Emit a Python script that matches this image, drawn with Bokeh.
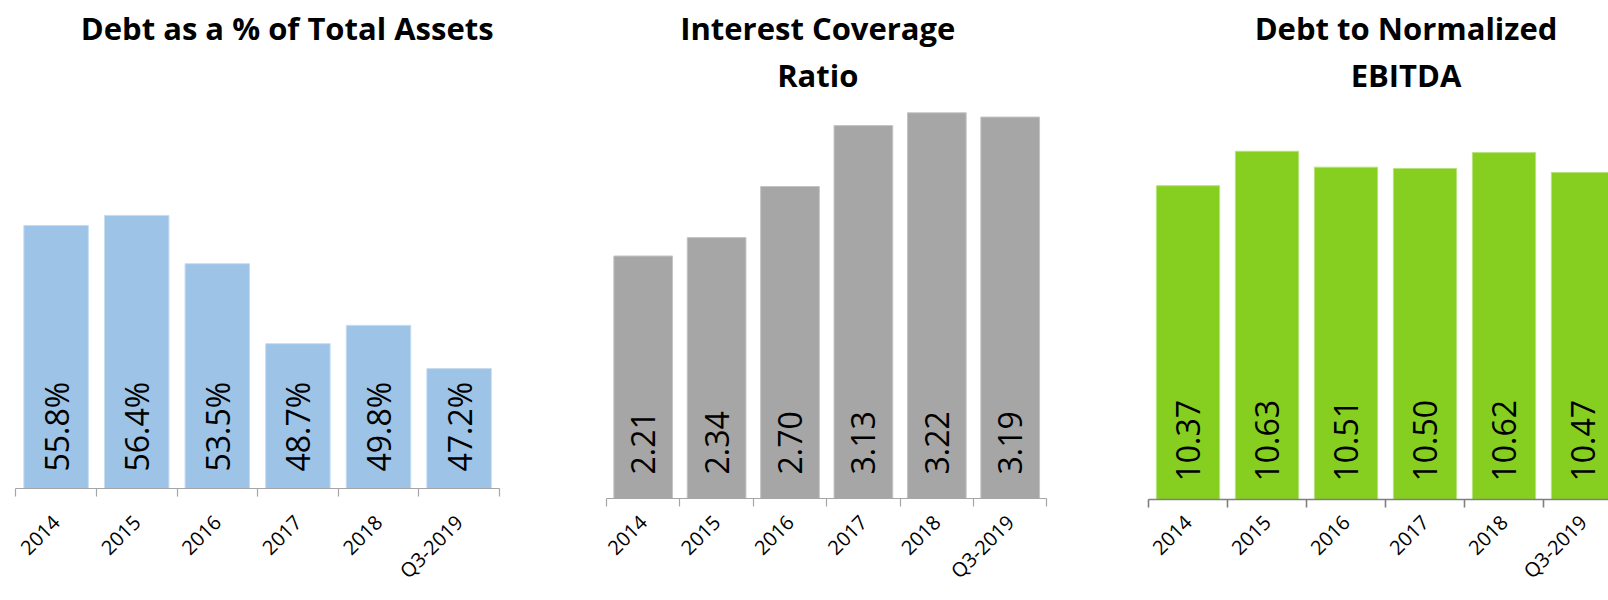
import math
from bokeh.plotting import figure
from bokeh.layouts import row
from bokeh.models import FixedTicker, Range1d, Label
from bokeh.core.properties import value
from bokeh.embed import file_html
from bokeh.resources import INLINE

# ---------------- data ----------------
categories = ["2014", "2015", "2016", "2017", "2018", "Q3-2019"]
debt_pct_assets = [55.8, 56.4, 53.5, 48.7, 49.8, 47.2]
interest_coverage = [2.21, 2.34, 2.70, 3.13, 3.22, 3.19]
debt_to_ebitda = [10.37, 10.63, 10.51, 10.50, 10.62, 10.47]

titles_1 = ["Debt as a % of Total Assets"]
titles_2 = ["Interest Coverage", "Ratio"]
titles_3 = ["Debt to Normalized", "EBITDA"]

# ---------------- layout (page pixels) ----------------
PAGE_TOP = 0
FIG_H = 600
FONT = "Open Sans"

panels = [
    dict(titles=titles_1, values=debt_pct_assets, fmt="{:.1f}%",
         fill="#9DC3E6", edge="#C6DCF1", axis_color="#A6A6A6", axis_w=1.2,
         fig_left=0, fig_right=560, axis_left=15.3, cat_px=80.6,
         base=488, y0=40.0, px_unit=16.65, title_cx=286.7,
         val_gap=17, standoff=22),
    dict(titles=titles_2, values=interest_coverage, fmt="{:.2f}",
         fill="#A6A6A6", edge="#C4C4C4", axis_color="#A6A6A6", axis_w=1.2,
         fig_left=560, fig_right=1090, axis_left=606.0, cat_px=73.4,
         base=498, y0=0.5, px_unit=141.8, title_cx=817.3,
         val_gap=24, standoff=12),
    dict(titles=titles_3, values=debt_to_ebitda, fmt="{:.2f}",
         fill="#86CE20", edge="#B6E27A", axis_color="#7F7F7F", axis_w=1.6,
         fig_left=1090, fig_right=1608, axis_left=1148.0, cat_px=79.0,
         base=499, y0=8.0, px_unit=132.4, title_cx=1405.5,
         val_gap=18, standoff=11),
]

# baselines of the two title lines (page px), corrected for Label's anchor
title_baselines = [27.0, 74.0]

figs = []
for cfg in panels:
    n = len(categories)
    centers = list(range(n))
    bounds = [i - 0.5 for i in range(n + 1)]
    frame_h = cfg["base"] - PAGE_TOP
    width = cfg["fig_right"] - cfg["fig_left"]

    def px_to_x(px, c=cfg):
        return (px - c["axis_left"]) / c["cat_px"] - 0.5

    def py_to_y(py, c=cfg):
        return c["y0"] + (c["base"] - py) / c["px_unit"]

    x_range = Range1d(px_to_x(cfg["fig_left"]), px_to_x(cfg["fig_right"]))
    y_range = Range1d(cfg["y0"], py_to_y(PAGE_TOP))

    p = figure(width=width, height=FIG_H, x_range=x_range, y_range=y_range,
               title=None, output_backend="svg", toolbar_location=None,
               y_axis_location=None, min_border_left=0, min_border_right=0,
               min_border_top=0, min_border_bottom=FIG_H - frame_h)
    if hasattr(p, "frame_align"):
        p.frame_align = False
    p.outline_line_color = None
    p.grid.visible = False
    p.background_fill_color = "white"
    p.border_fill_color = "white"

    p.vbar(x=centers, top=cfg["values"], bottom=cfg["y0"], width=0.8,
           fill_color=cfg["fill"], line_color=cfg["edge"], line_width=1)

    p.text(x=centers, y=cfg["y0"], text=[cfg["fmt"].format(v) for v in cfg["values"]],
           angle=math.pi / 2, y_offset=-cfg["val_gap"], text_align="left",
           text_baseline="middle", text_font=value(FONT), text_font_size="32px",
           text_color="black")

    ax = p.xaxis[0]
    ax.ticker = FixedTicker(ticks=centers, minor_ticks=bounds)
    ax.major_label_overrides = {i: c for i, c in enumerate(categories)}
    ax.major_label_orientation = math.pi / 4
    ax.major_label_text_font = FONT
    ax.major_label_text_font_size = "20px"
    ax.major_label_text_color = "black"
    ax.major_label_standoff = cfg["standoff"]
    ax.major_tick_out = 0
    ax.major_tick_in = 0
    ax.minor_tick_out = 8
    ax.minor_tick_in = 0
    ax.minor_tick_line_color = cfg["axis_color"]
    ax.minor_tick_line_width = cfg["axis_w"]
    ax.axis_line_color = cfg["axis_color"]
    ax.axis_line_width = cfg["axis_w"]
    ax.bounds = (bounds[0], bounds[-1])

    for line, bl in zip(cfg["titles"], title_baselines):
        p.add_layout(Label(x=px_to_x(cfg["title_cx"]), y=py_to_y(bl), text=line,
                           text_align="center", text_baseline="alphabetic",
                           text_font=FONT, text_font_style="bold",
                           text_font_size="31px", text_color="black"))
    figs.append(p)

layout = row(*figs, spacing=0)
open("out.html", "w").write(file_html(layout, INLINE))
